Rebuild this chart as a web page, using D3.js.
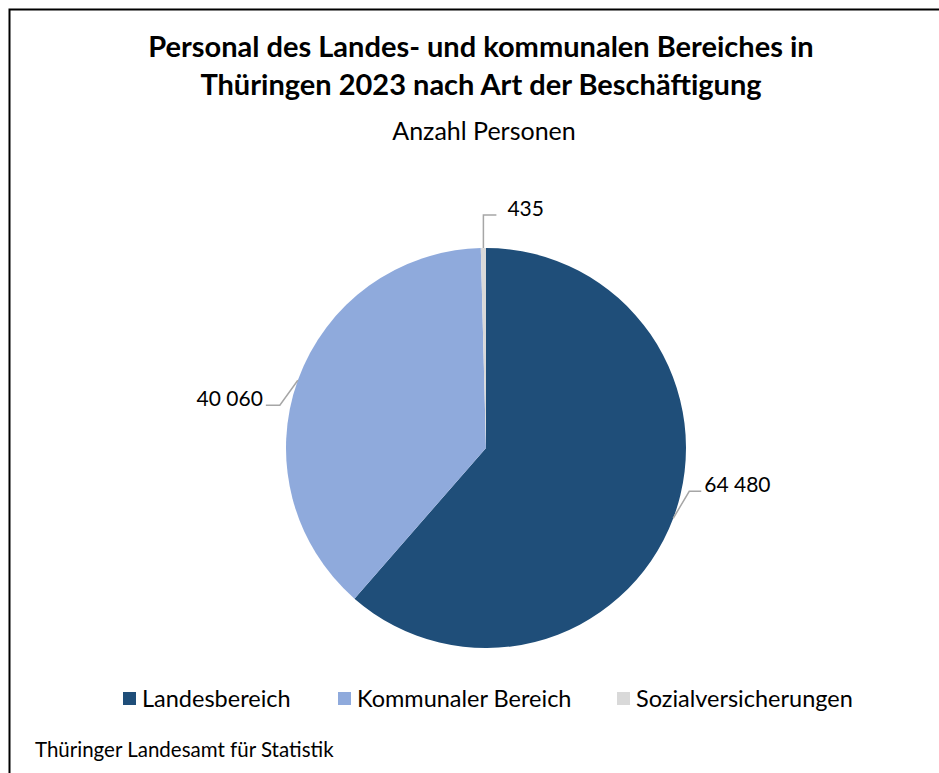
<!DOCTYPE html>
<html>
<head>
<meta charset="utf-8">
<script src="https://cdn.jsdelivr.net/npm/d3@7"></script>
<style>
  html, body { margin: 0; padding: 0; background: #fff; }
  svg { display: block; }
</style>
</head>
<body>
<svg id="chart" width="939" height="773"></svg>
<script>
// data
const categories = ['Landesbereich', 'Kommunaler Bereich', 'Sozialversicherungen'];
const values = [64480, 40060, 435];
const valueLabels = ['64 480', '40 060', '435'];
const colors = ['#1F4E79', '#8FAADC', '#D9D9D9'];

const titleLines = [
  'Personal des Landes- und kommunalen Bereiches in',
  'Thüringen 2023 nach Art der Beschäftigung'
];
const subtitle = 'Anzahl Personen';
const source = 'Thüringer Landesamt für Statistik';

const width = 939;
const height = 773;
const font = 'Lato, "Noto Sans", sans-serif';

const svg = d3.select('#chart');

// frame
svg.append('rect')
  .attr('x', 9.5)
  .attr('y', 9.5)
  .attr('width', width)
  .attr('height', height)
  .attr('fill', 'none')
  .attr('stroke', '#000')
  .attr('stroke-width', 2);

// title
svg.append('g')
  .selectAll('text')
  .data(titleLines)
  .enter()
  .append('text')
  .attr('x', 481)
  .attr('y', function(d, i) { return 57 + i * 38; })
  .attr('text-anchor', 'middle')
  .attr('font-family', font)
  .attr('font-weight', 'bold')
  .attr('font-size', 29)
  .attr('fill', '#000')
  .text(function(d) { return d; });

svg.append('text')
  .attr('x', 484)
  .attr('y', 140)
  .attr('text-anchor', 'middle')
  .attr('font-family', font)
  .attr('font-size', 25)
  .attr('fill', '#000')
  .text(subtitle);

// pie
const cx = 486, cy = 448, r = 200;
const pie = d3.pie().sort(null).value(function(d) { return d; });
const arcs = pie(values);
const arc = d3.arc().innerRadius(0).outerRadius(r);

const g = svg.append('g').attr('transform', 'translate(' + cx + ',' + cy + ')');

g.selectAll('path')
  .data(arcs)
  .enter()
  .append('path')
  .attr('d', arc)
  .attr('fill', function(d, i) { return colors[i]; });

// label leader lines, placed from each slice's outer point
const labelPos = [
  { dx: 16, dy: -27, tx: 12, gap: 3 },   // Landesbereich
  { dx: -18, dy: 25, tx: -14, gap: 3 },  // Kommunaler
  { dx: 0, dy: -33, tx: 13, gap: 11 }    // Sozial
];

arcs.forEach(function(a, i) {
  const mid = (a.startAngle + a.endAngle) / 2;
  const p0 = [Math.sin(mid) * r, -Math.cos(mid) * r];
  const lp = labelPos[i];
  const p1 = [p0[0] + lp.dx, p0[1] + lp.dy];
  const p2 = [p1[0] + lp.tx, p1[1]];
  g.append('polyline')
    .attr('points', [p0, p1, p2].map(function(p) { return p.join(','); }).join(' '))
    .attr('fill', 'none')
    .attr('stroke', '#A6A6A6')
    .attr('stroke-width', 1.5);
  g.append('text')
    .attr('x', p2[0] + (lp.tx > 0 ? lp.gap : -lp.gap))
    .attr('y', p2[1] + 1)
    .attr('text-anchor', lp.tx > 0 ? 'start' : 'end')
    .attr('font-family', font)
    .attr('font-size', 21)
    .attr('fill', '#000')
    .text(valueLabels[i]);
});

// legend
const legendX = [123, 338, 617];
const legend = svg.append('g')
  .selectAll('g')
  .data(categories)
  .enter()
  .append('g')
  .attr('transform', function(d, i) { return 'translate(' + legendX[i] + ',699)'; });

legend.append('rect')
  .attr('x', 0)
  .attr('y', -7)
  .attr('width', 13)
  .attr('height', 13)
  .attr('fill', function(d, i) { return colors[i]; });

legend.append('text')
  .attr('x', 19)
  .attr('y', 0)
  .attr('dy', '0.35em')
  .attr('font-family', font)
  .attr('font-size', 23.5)
  .attr('fill', '#000')
  .text(function(d) { return d; });

// source
svg.append('text')
  .attr('x', 35)
  .attr('y', 757)
  .attr('font-family', font)
  .attr('font-size', 20.5)
  .attr('fill', '#000')
  .text(source);
</script>
</body>
</html>
